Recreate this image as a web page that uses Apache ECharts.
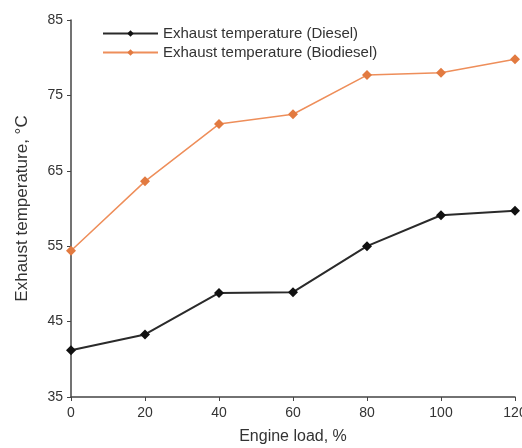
<!DOCTYPE html>
<html>
<head>
<meta charset="utf-8">
<script src="https://cdn.jsdelivr.net/npm/echarts@6/dist/echarts.min.js"></script>
<style>
html, body { margin: 0; padding: 0; background: #fff; }
#main { width: 522px; height: 448px; }
</style>
</head>
<body>
<div id="main"></div>
<script>
// 发动机负荷 (%)
var loads = [0, 20, 40, 60, 80, 100, 120];
// 排气温度 柴油
var dieselTemp = [41.2, 43.3, 48.8, 48.9, 55.0, 59.1, 59.7];
// 排气温度 生物柴油
var biodieselTemp = [54.4, 63.6, 71.2, 72.5, 77.7, 78.0, 79.8];

function pairs(xs, ys) {
    return xs.map(function (x, i) { return [x, ys[i]]; });
}

var myChart = echarts.init(document.getElementById('main'));

var axisCol = '#444';
var font = 'Liberation Sans, Arial, sans-serif';

var option = {
    animation: false,
    textStyle: { fontFamily: font },
    legend: {
        left: 97,
        top: 21,
        orient: 'vertical',
        itemWidth: 55,
        itemHeight: 8,
        itemGap: 4,
        textStyle: { fontSize: 15, color: '#333', fontFamily: font },
        data: ['Exhaust temperature (Diesel)', 'Exhaust temperature (Biodiesel)']
    },
    grid: { left: 71, right: 7, top: 20, bottom: 51, outerBoundsMode: 'none', containLabel: false },
    xAxis: {
        type: 'value',
        min: 0,
        max: 120,
        interval: 20,
        name: 'Engine load, %',
        nameLocation: 'middle',
        nameGap: 32,
        nameTextStyle: { fontSize: 16, color: '#333' },
        axisLine: { lineStyle: { color: axisCol, width: 1.5 } },
        axisTick: { length: 4, lineStyle: { color: axisCol } },
        axisLabel: { fontSize: 14, color: '#333', margin: 9 },
        splitLine: { show: false }
    },
    yAxis: {
        type: 'value',
        min: 35,
        max: 85,
        interval: 10,
        name: 'Exhaust temperature, °C',
        nameLocation: 'middle',
        nameGap: 40,
        nameTextStyle: { fontSize: 17, color: '#333' },
        axisLine: { show: true, lineStyle: { color: axisCol, width: 1.5 } },
        axisTick: { show: true, length: 4, lineStyle: { color: axisCol } },
        axisLabel: { fontSize: 14, color: '#333', margin: 8 },
        splitLine: { show: false }
    },
    series: [
        {
            name: 'Exhaust temperature (Diesel)',
            type: 'line',
            data: pairs(loads, dieselTemp),
            symbol: 'diamond',
            symbolSize: 10,
            lineStyle: { color: '#2a2a2a', width: 2 },
            itemStyle: { color: '#111' }
        },
        {
            name: 'Exhaust temperature (Biodiesel)',
            type: 'line',
            data: pairs(loads, biodieselTemp),
            symbol: 'diamond',
            symbolSize: 10,
            lineStyle: { color: '#EE8E5A', width: 1.5 },
            itemStyle: { color: '#E27A40' }
        }
    ]
};

myChart.setOption(option);
</script>
</body>
</html>
